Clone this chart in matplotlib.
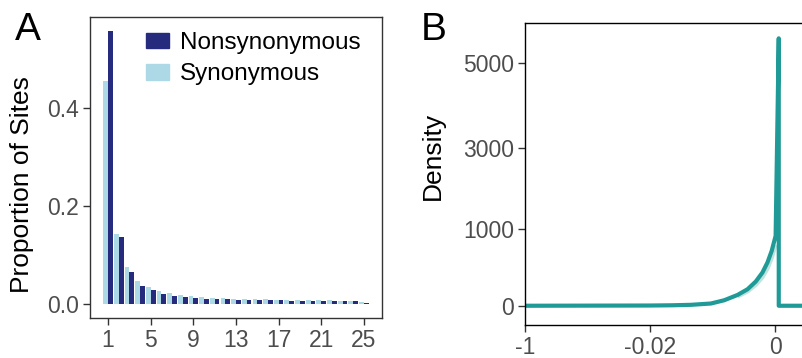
import numpy as np
import matplotlib
matplotlib.use("Agg")
import matplotlib.pyplot as plt
from matplotlib.patches import Patch

plt.rcParams['font.family'] = ['Liberation Sans', 'DejaVu Sans']

# ---- panel A: site frequency spectrum ----
counts = np.arange(1, 26)
syn = [0.455, 0.144, 0.075, 0.048, 0.035, 0.028, 0.023, 0.019, 0.016, 0.015,
       0.013, 0.012, 0.011, 0.011, 0.010, 0.010, 0.009, 0.009, 0.008, 0.008,
       0.008, 0.008, 0.007, 0.006, 0.004]
nonsyn = [0.556, 0.136, 0.066, 0.038, 0.029, 0.021, 0.017, 0.015, 0.013, 0.011,
          0.011, 0.010, 0.009, 0.009, 0.008, 0.008, 0.008, 0.007, 0.007, 0.007,
          0.006, 0.006, 0.006, 0.006, 0.003]
a_xticks = [1, 5, 9, 13, 17, 21, 25]
a_yticks = [0.0, 0.2, 0.4]

# ---- panel B: density of selection coefficients ----
dens_x = [-1, -0.02, -0.0165, -0.01345, -0.01026, -0.00814, -0.0060, -0.0044,
          -0.00308, -0.00201, -0.00121, -0.00053, 0.0001, 0.0006, 0.0006, 0.02]
dens_y = [0, 3, 6, 12, 29, 71, 140, 214, 314, 431, 561, 712, 907, 5570, 0, 0]
shade_x = [-0.0060, -0.0044, -0.00308, -0.00201, -0.00121, -0.00053, 0.0001]
shade_y = [120, 185, 270, 370, 480, 620, 790]
b_xticks = [-1, -0.02, 0]
b_xlabels = ['-1', '-0.02', '0']
b_yticks = [0, 1000, 3000, 5000]

col_non = '#272b7e'
col_syn = '#add8e6'
col_line = '#1f9a96'
tick_col = '#4d4d4d'

W, H = 802, 358
fig = plt.figure(figsize=(W / 100, H / 100), dpi=100)

axA = fig.add_axes([90 / W, 1 - 318 / H, (382 - 90) / W, (318 - 17) / H])
w = 0.45
axA.bar(counts - w / 2, syn, width=w, color=col_syn, linewidth=0)
axA.bar(counts + w / 2, nonsyn, width=w, color=col_non, linewidth=0)
axA.set_xlim(-0.7, 26.7)
axA.set_ylim(-0.028, 0.585)
axA.set_xticks(a_xticks)
axA.set_yticks(a_yticks)
axA.set_yticklabels(['%.1f' % v for v in a_yticks])
for s in axA.spines.values():
    s.set_color('#333333')
    s.set_linewidth(1.0)
axA.tick_params(length=5, width=1, color='#333333', labelcolor=tick_col,
                labelsize=16.5, pad=3)
axA.set_ylabel('Proportion of Sites', fontsize=19)
axA.yaxis.set_label_coords(-0.192, 0.442)
handles = [Patch(color=col_non, label='Nonsynonymous'),
           Patch(color=col_syn, label='Synonymous')]
axA.legend(handles=handles, loc='upper left', bbox_to_anchor=(56 / 292, 1 - 15 / 301),
           frameon=False, fontsize=17.5, handlelength=0.95, handleheight=0.62,
           handletextpad=0.45, labelspacing=0.38, borderpad=0, borderaxespad=0)

# piecewise scales for panel B
y_knots = [-10000, 0, 1000, 3000, 5000, 20000]
y_pos = [-770, 0, 77, 157.4, 243, 243 + 15000 * 0.0428]
x_knots = [-2, -1, -0.02, 0, 0.02, 1]
x_pos = [-1, 0, 1, 2, 3, 4]


def y_fwd(v):
    return np.interp(v, y_knots, y_pos)


def y_inv(p):
    return np.interp(p, y_pos, y_knots)


def x_fwd(v):
    return np.interp(v, x_knots, x_pos)


def x_inv(p):
    return np.interp(p, x_pos, x_knots)


axB = fig.add_axes([525 / W, 1 - 325 / H, 375 / W, (325 - 22.7) / H])
axB.set_xscale('function', functions=(x_fwd, x_inv))
axB.set_yscale('function', functions=(y_fwd, y_inv))
axB.plot(shade_x, shade_y, color='#bfe4e0', lw=3, solid_capstyle='butt')
axB.plot(dens_x, dens_y, color=col_line, lw=3, solid_joinstyle='round')
axB.set_xlim(-1, 0.02)
axB.set_ylim(-250, 5935)
axB.set_xticks(b_xticks)
axB.set_xticklabels(b_xlabels)
axB.set_yticks(b_yticks)
axB.set_yticklabels([str(v) for v in b_yticks])
axB.minorticks_off()
for s in axB.spines.values():
    s.set_color('black')
    s.set_linewidth(1.0)
axB.tick_params(length=5, width=1, color='#333333', labelcolor=tick_col,
                labelsize=16.5, pad=3)
axB.set_ylabel('Density', fontsize=19)
axB.yaxis.set_label_coords(-0.2133, 0.559)

fig.text(15 / W, 1 - 40 / H, 'A', fontsize=28, va='baseline', ha='left')
fig.text(421 / W, 1 - 40 / H, 'B', fontsize=28, va='baseline', ha='left')

fig.savefig('out.png', dpi=100)
